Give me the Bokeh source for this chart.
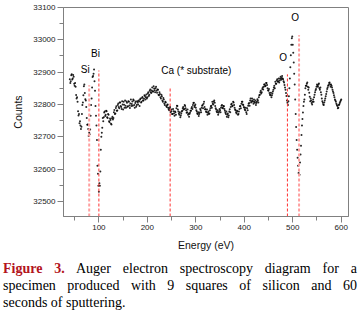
from bokeh.plotting import figure
from bokeh.models import FixedTicker, Range1d, Div, ColumnDataSource
from bokeh.layouts import column
from bokeh.core.properties import value
from bokeh.embed import file_html
from bokeh.resources import INLINE

# Energy grid (eV) and counts (two interleaved sweeps)
energy_a = list(range(40, 601, 2))
counts_a = [
    32878, 32872, 32893, 32880, 32886, 32858, 32855, 32818, 32808, 32766,
    32742, 32735, 32731, 32798, 32828, 32862, 32816, 32792, 32737, 32724,
    32712, 32722, 32798, 32852, 32888, 32908, 32842, 32765, 32690, 32585,
    32530, 32548, 32660, 32712, 32758, 32760, 32778, 32768, 32779, 32758,
    32768, 32745, 32752, 32738, 32762, 32758, 32783, 32772, 32794, 32781,
    32803, 32788, 32806, 32792, 32810, 32784, 32799, 32812, 32790, 32805,
    32794, 32808, 32789, 32815, 32801, 32796, 32812, 32790, 32809, 32798,
    32806, 32812, 32795, 32818, 32808, 32823, 32812, 32828, 32815, 32831,
    32822, 32838, 32830, 32846, 32835, 32852, 32840, 32849, 32838, 32855,
    32836, 32845, 32828, 32832, 32818, 32825, 32808, 32815, 32798, 32806,
    32792, 32800, 32785, 32788, 32776, 32784, 32770, 32779, 32765, 32776,
    32788, 32795, 32778, 32768, 32760, 32772, 32780, 32792, 32786, 32795,
    32782, 32776, 32768, 32762, 32774, 32780, 32792, 32798, 32805, 32796,
    32790, 32778, 32770, 32764, 32775, 32782, 32790, 32798, 32802, 32792,
    32785, 32776, 32768, 32778, 32772, 32788, 32796, 32808, 32800, 32812,
    32795, 32784, 32776, 32768, 32778, 32782, 32790, 32798, 32788, 32794,
    32780, 32770, 32762, 32772, 32766, 32785, 32792, 32802, 32796, 32806,
    32790, 32782, 32772, 32778, 32770, 32786, 32795, 32802, 32808, 32798,
    32790, 32782, 32776, 32788, 32796, 32804, 32812, 32806, 32818, 32808,
    32815, 32805, 32798, 32808, 32812, 32822, 32830, 32842, 32838, 32852,
    32855, 32862, 32858, 32866, 32850, 32842, 32835, 32828, 32822, 32834,
    32845, 32858, 32870, 32864, 32878, 32872, 32868, 32880, 32876, 32888,
    32878, 32868, 32852, 32835, 32812, 32798, 32825, 32880, 32952, 33005,
    32985, 32930, 32862, 32770, 32690, 32635, 32588, 32582, 32645, 32705,
    32755, 32795, 32815, 32850, 32858, 32868, 32845, 32836, 32810, 32812,
    32800, 32815, 32822, 32838, 32848, 32862, 32855, 32865, 32845, 32838,
    32818, 32805, 32798, 32812, 32825, 32840, 32852, 32860, 32868, 32855,
    32858, 32845, 32835, 32822, 32812, 32802, 32795, 32790, 32800, 32808, 32815,
]
energy_b = list(range(41, 600, 2))
counts_b = [
    32866, 32890, 32877, 32891, 32864, 32866, 32829, 32822, 32779, 32770,
    32748, 32724, 32770, 32806, 32856, 32835, 32812, 32758, 32738, 32702,
    32708, 32765, 32818, 32885, 32895, 32872, 32795, 32735, 32610, 32548,
    32556, 32592, 32700, 32728, 32748, 32775, 32764, 32780, 32760, 32770,
    32748, 32756, 32740, 32757, 32753, 32776, 32770, 32789, 32780, 32798,
    32792, 32806, 32795, 32786, 32800, 32808, 32790, 32796, 32809, 32793,
    32810, 32797, 32803, 32795, 32809, 32815, 32798, 32804, 32793, 32810,
    32800, 32809, 32815, 32806, 32820, 32812, 32818, 32826, 32822, 32818,
    32834, 32826, 32842, 32838, 32843, 32840, 32856, 32844, 32850, 32842,
    32846, 32830, 32838, 32822, 32830, 32812, 32820, 32803, 32808, 32795,
    32798, 32790, 32782, 32792, 32779, 32770, 32786, 32772, 32778, 32768,
    32796, 32784, 32772, 32776, 32766, 32778, 32788, 32784, 32798, 32788,
    32774, 32784, 32772, 32770, 32780, 32788, 32786, 32804, 32792, 32800,
    32782, 32772, 32776, 32770, 32786, 32776, 32796, 32788, 32808, 32785,
    32778, 32784, 32774, 32770, 32782, 32794, 32790, 32802, 32808, 32805,
    32788, 32778, 32782, 32774, 32786, 32776, 32796, 32790, 32795, 32786,
    32774, 32778, 32768, 32760, 32778, 32776, 32800, 32794, 32808, 32798,
    32784, 32776, 32780, 32768, 32778, 32794, 32788, 32808, 32800, 32792,
    32784, 32790, 32770, 32782, 32802, 32796, 32818, 32810, 32812, 32802,
    32808, 32812, 32804, 32816, 32806, 32828, 32838, 32834, 32848, 32846,
    32862, 32856, 32866, 32860, 32844, 32848, 32830, 32836, 32828, 32840,
    32852, 32850, 32864, 32874, 32870, 32880, 32874, 32886, 32882, 32880,
    32872, 32860, 32845, 32826, 32805, 32810, 32850, 32915, 32985, 33010,
    32960, 32895, 32815, 32730, 32660, 32610, 32596, 32620, 32672, 32735,
    32775, 32808, 32830, 32858, 32864, 32855, 32852, 32824, 32818, 32804,
    32808, 32808, 32830, 32844, 32855, 32858, 32862, 32850, 32852, 32830,
    32810, 32800, 32806, 32818, 32832, 32848, 32858, 32866, 32862, 32862,
    32852, 32840, 32828, 32815, 32808, 32798, 32788, 32798, 32804, 32812,
]

# Peak markers: energy, top of dashed line, colour, width
marker_energy = [80, 100, 247, 489, 513]
marker_top = [32859, 32905, 32853, 32893, 33014]
marker_color = ["#ff9f9f", "#ff3030", "#ff3030", "#ff3030", "#ff9f9f"]
marker_width = [2, 1, 1, 1, 2]

label_text = ["Si", "Bi", "Ca (* substrate)", "O", "O"]
label_x = [72, 93, 301, 480, 505]
label_y = [32909, 32958, 32905, 32946, 33070]

x_ticks = [100, 200, 300, 400, 500, 600]
x_minor = [50, 150, 250, 350, 450, 550]
y_ticks = [32500, 32600, 32700, 32800, 32900, 33000, 33100]
y_minor = [32550, 32650, 32750, 32850, 32950, 33050]

ymin = 32453
p = figure(width=355, height=257, output_backend="svg", toolbar_location=None,
           x_range=Range1d(27, 615), y_range=Range1d(ymin, 33100),
           min_border_left=63, min_border_right=7, min_border_top=7,
           min_border_bottom=41)
p.grid.visible = False
p.outline_line_color = "#808080"
p.background_fill_color = "white"

for ex, cy in ((energy_a, counts_a), (energy_b, counts_b)):
    src = ColumnDataSource(dict(x=ex, y=cy))
    p.scatter("x", "y", source=src, marker="circle", size=2.0,
              fill_color="black", line_color=None, alpha=0.85)

seg = ColumnDataSource(dict(x=marker_energy, y0=[ymin] * 5, y1=marker_top,
                            c=marker_color, w=marker_width))
p.segment(x0="x", y0="y0", x1="x", y1="y1", source=seg, line_color="c",
          line_width="w", line_dash="3 2")

lab = ColumnDataSource(dict(x=label_x, y=label_y, t=label_text))
p.text(x="x", y="y", text="t", source=lab, text_font=value("Liberation Sans"),
       text_font_size="10px", text_align="center", text_baseline="middle",
       text_color="black")

for ax in (p.xaxis[0], p.yaxis[0]):
    ax.axis_line_color = "#808080"
    ax.major_tick_line_color = "#808080"
    ax.minor_tick_line_color = "#808080"
    ax.major_tick_in = 0
    ax.major_tick_out = 6
    ax.minor_tick_in = 0
    ax.minor_tick_out = 4
    ax.major_label_text_font = "Liberation Sans"
    ax.major_label_text_font_size = "8px"
    ax.major_label_text_color = "#222222"
    ax.axis_label_text_font = "Liberation Sans"
    ax.axis_label_text_font_size = "10.5px"
    ax.axis_label_text_font_style = "normal"
    ax.axis_label_text_color = "#111111"
    ax.major_label_standoff = 2

p.xaxis.ticker = FixedTicker(ticks=x_ticks, minor_ticks=x_minor)
p.yaxis.ticker = FixedTicker(ticks=y_ticks, minor_ticks=y_minor)
p.xaxis.axis_label = "Energy (eV)"
p.yaxis.axis_label = "Counts"
p.xaxis.axis_label_standoff = 6
p.yaxis.axis_label_standoff = 6

caption_html = (
    '<div style="padding-left:3px;padding-top:3px;width:357px;'
    'font-family:\'Liberation Serif\';'
    'font-size:14px;line-height:17px;color:black;">'
    '<div style="text-align:justify;text-align-last:justify;">'
    '<span style="color:#b3141c;font-weight:bold;">Figure 3.</span> '
    'Auger electron spectroscopy diagram for a</div>'
    '<div style="text-align:justify;text-align-last:justify;">'
    'specimen produced with 9 squares of silicon and 60</div>'
    '<div>seconds of sputtering.</div></div>'
)
cap = Div(text=caption_html, width=362, height=55, margin=(0, 0, 0, 0))

layout = column(p, cap, spacing=0)
open("out.html", "w").write(file_html(layout, INLINE))
